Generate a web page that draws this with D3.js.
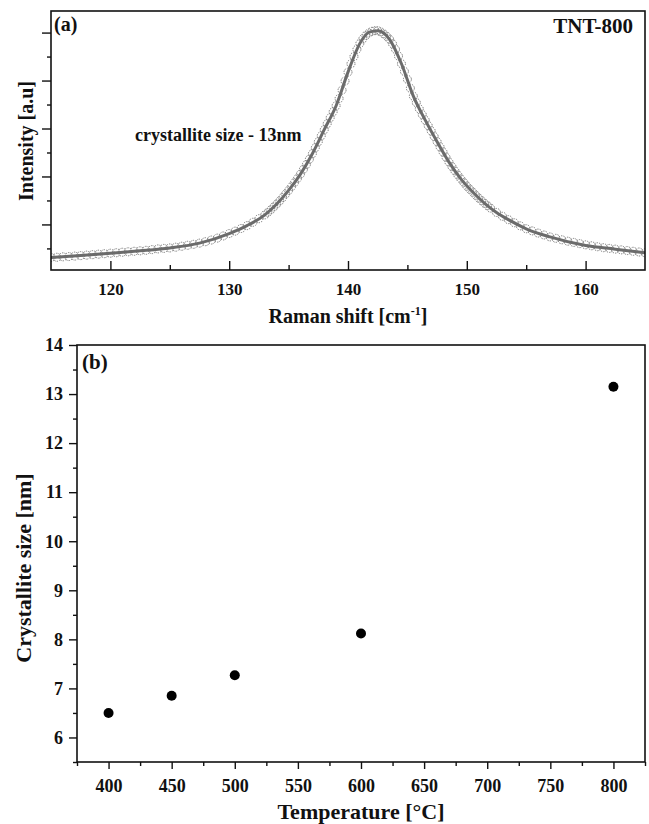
<!DOCTYPE html>
<html>
<head>
<meta charset="utf-8">
<script src="https://cdn.jsdelivr.net/npm/d3@7"></script>
<style>
  body { margin: 0; background: #fff; }
  svg text { font-family: "Liberation Serif", "Times New Roman", serif; font-weight: bold; fill: #111; }
</style>
</head>
<body>
<div id="chart-area"></div>
<script>
// panel (a): Raman spectrum of TNT-800 (measured points + fit)
let ramanShift = [
  115, 115.5, 116, 116.5, 117, 117.5, 118, 118.5, 119, 119.5, 120, 120.5, 121, 121.5, 122, 122.5,
  123, 123.5, 124, 124.5, 125, 125.5, 126, 126.5, 127, 127.5, 128, 128.5, 129, 129.5, 130, 130.5,
  131, 131.5, 132, 132.5,
  133, 133.25, 133.5, 133.75, 134, 134.25, 134.5, 134.75, 135, 135.25, 135.5, 135.75,
  136, 136.25, 136.5, 136.75, 137, 137.25, 137.5, 137.75, 138, 138.25, 138.5, 138.75,
  139, 139.25, 139.5, 139.75, 140, 140.25, 140.5, 140.75, 141, 141.25, 141.5, 141.75,
  142, 142.25, 142.5, 142.75, 143, 143.25, 143.5, 143.75, 144, 144.25, 144.5, 144.75,
  145, 145.25, 145.5, 145.75, 146, 146.25, 146.5, 146.75, 147, 147.25, 147.5, 147.75,
  148, 148.25, 148.5, 148.75, 149, 149.25, 149.5, 149.75, 150, 150.25, 150.5, 150.75,
  151, 151.25, 151.5, 151.75,
  152, 152.5, 153, 153.5, 154, 154.5, 155, 155.5, 156, 156.5, 157, 157.5, 158, 158.5,
  159, 159.5, 160, 160.5, 161, 161.5, 162, 162.5, 163, 163.5, 164, 164.5, 165
];
let ramanIntensity = [
  -0.38, -0.37, -0.35, -0.34, -0.32, -0.30, -0.28, -0.26, -0.24, -0.22, -0.20, -0.18, -0.16, -0.14, -0.12, -0.10,
  -0.08, -0.05, -0.02, 0.00, 0.02, 0.05, 0.09, 0.13, 0.17, 0.22, 0.28, 0.35, 0.43, 0.52, 0.62, 0.72,
  0.83, 0.95, 1.09, 1.24,
  1.40, 1.50, 1.61, 1.73, 1.85, 1.98, 2.12, 2.27, 2.42, 2.58, 2.75, 2.92,
  3.10, 3.30, 3.50, 3.72, 3.95, 4.20, 4.45, 4.70, 4.95, 5.20, 5.45, 5.70,
  5.95, 6.25, 6.60, 6.98, 7.35, 7.70, 8.00, 8.30, 8.55, 8.74, 8.88, 8.98,
  9.05, 9.08, 9.08, 9.03, 8.95, 8.85, 8.72, 8.53, 8.30, 8.02, 7.70, 7.38,
  7.05, 6.68, 6.35, 6.08, 5.82, 5.58, 5.35, 5.12, 4.90, 4.67, 4.45, 4.23,
  4.02, 3.80, 3.60, 3.41, 3.23, 3.06, 2.90, 2.75, 2.60, 2.47, 2.35, 2.22,
  2.10, 1.99, 1.88, 1.78,
  1.68, 1.50, 1.34, 1.20, 1.07, 0.94, 0.82, 0.73, 0.64, 0.56, 0.48, 0.42, 0.36, 0.30,
  0.25, 0.20, 0.15, 0.11, 0.07, 0.03, 0.00, -0.03, -0.06, -0.09, -0.12, -0.15, -0.18
];
let fitShift = [115, 117.5, 120, 122.5, 125, 127.5, 130, 131.5, 133, 134, 135, 136, 137, 138, 139, 140, 141, 141.8,
  142.5, 143.5, 144.5, 145.5, 146.5, 147.5, 148.5, 149.5, 150.5, 151.5, 152.5, 153.5, 155, 157, 160, 162.5, 165];
let fitIntensity = [-0.38, -0.30, -0.20, -0.10, 0.02, 0.22, 0.62, 0.95, 1.40, 1.85, 2.42, 3.10, 3.95, 4.95, 5.95, 7.35, 8.55, 9.02,
  9.08, 8.72, 7.70, 6.35, 5.35, 4.45, 3.60, 2.90, 2.35, 1.88, 1.50, 1.20, 0.82, 0.48, 0.12, -0.03, -0.18];
let ramanMajorTicks = [120, 130, 140, 150, 160];
let ramanMinorTicks = [125, 135, 145, 155];
let intensityTicks = [0, 1, 2, 3, 4, 5, 6, 7, 8, 9];

// panel (b): crystallite size vs temperature
let temperature = [400, 450, 500, 600, 800];
let crystalliteSize = [6.50, 6.85, 7.27, 8.12, 13.15];
let tempMajorTicks = [400, 450, 500, 550, 600, 650, 700, 750, 800];
let tempMinorTicks = [375, 425, 475, 525, 575, 625, 675, 725, 775, 825];
let sizeMajorTicks = [6, 7, 8, 9, 10, 11, 12, 13, 14];
let sizeMinorTicks = [5.5, 6.5, 7.5, 8.5, 9.5, 10.5, 11.5, 12.5, 13.5];

let svg = d3.select('#chart-area').append('svg')
  .attr('width', 649)
  .attr('height', 824);

// ---------- panel (a) ----------
let a = { left: 51, right: 645, top: 11, bottom: 270 };

let xA = d3.scaleLinear().domain([115, 165]).range([a.left, a.right]);
let yA = d3.scaleLinear().domain([-0.9, 9.9]).range([a.bottom, a.top]);

let gA = svg.append('g');

svg.append('clipPath').attr('id', 'clip-a')
  .append('rect')
  .attr('x', a.left).attr('y', a.top)
  .attr('width', a.right - a.left).attr('height', a.bottom - a.top);

let measured = ramanShift.map((d, i) => ({ x: d, y: ramanIntensity[i] }));
let fit = fitShift.map((d, i) => ({ x: d, y: fitIntensity[i] }));

gA.append('g')
  .attr('clip-path', 'url(#clip-a)')
  .selectAll('circle')
  .data(measured)
  .enter()
  .append('circle')
  .attr('cx', d => xA(d.x))
  .attr('cy', d => yA(d.y))
  .attr('r', 4)
  .attr('fill', 'none')
  .attr('stroke', '#777')
  .attr('stroke-width', 1)
  .attr('stroke-dasharray', '1.4,1.1');

let line = d3.line()
  .x(d => xA(d.x))
  .y(d => yA(d.y))
  .curve(d3.curveMonotoneX);

gA.append('path')
  .datum(fit)
  .attr('clip-path', 'url(#clip-a)')
  .attr('d', line)
  .attr('fill', 'none')
  .attr('stroke', '#6b6b6b')
  .attr('stroke-width', 3);

// bottom ticks, pointing inward
gA.append('g')
  .attr('transform', `translate(0, ${a.bottom})`)
  .call(d3.axisBottom(xA).tickValues(ramanMajorTicks).tickSize(-9).tickPadding(13).tickFormat(d3.format('d')))
  .call(g => g.select('.domain').remove())
  .selectAll('text')
  .style('font-size', '17px');
gA.append('g')
  .attr('transform', `translate(0, ${a.bottom})`)
  .call(d3.axisBottom(xA).tickValues(ramanMinorTicks).tickSize(-5).tickFormat(''))
  .call(g => g.select('.domain').remove());

// left ticks, outward, no labels
gA.append('g')
  .attr('transform', `translate(${a.left}, 0)`)
  .call(d3.axisLeft(yA).tickValues(intensityTicks).tickFormat('').tickSize(0))
  .call(g => g.select('.domain').remove())
  .selectAll('.tick line')
  .attr('x2', d => d % 2 === 1 ? -9 : -4);

gA.selectAll('.tick line').attr('stroke', '#111').attr('stroke-width', 1.4);

gA.append('rect')
  .attr('x', a.left).attr('y', a.top)
  .attr('width', a.right - a.left).attr('height', a.bottom - a.top)
  .attr('fill', 'none')
  .attr('stroke', '#111')
  .attr('stroke-width', 1.6);

gA.append('text')
  .attr('x', 54).attr('y', 31)
  .style('font-size', '20px')
  .text('(a)');

gA.append('text')
  .attr('x', 633).attr('y', 33)
  .attr('text-anchor', 'end')
  .style('font-size', '21px')
  .text('TNT-800');

gA.append('text')
  .attr('x', 135).attr('y', 141)
  .style('font-size', '18px')
  .text('crystallite size - 13nm');

let xTitleA = gA.append('text')
  .attr('x', (a.left + a.right) / 2).attr('y', 323)
  .attr('text-anchor', 'middle')
  .style('font-size', '20px');
xTitleA.append('tspan').text('Raman shift [cm');
xTitleA.append('tspan').attr('dy', -8).style('font-size', '12px').text('-1');
xTitleA.append('tspan').attr('dy', 8).text(']');

gA.append('text')
  .attr('transform', 'translate(33, 141) rotate(-90)')
  .attr('text-anchor', 'middle')
  .style('font-size', '20px')
  .text('Intensity [a.u]');

// ---------- panel (b) ----------
let b = { left: 77, right: 645, top: 345, bottom: 762 };

let xB = d3.scaleLinear().domain([375, 825]).range([b.left, b.right]);
let yB = d3.scaleLinear().domain([5.5, 14]).range([b.bottom, b.top]);

let gB = svg.append('g');

gB.append('g')
  .attr('transform', `translate(0, ${b.bottom})`)
  .call(d3.axisBottom(xB).tickValues(tempMajorTicks).tickSize(7).tickPadding(10).tickFormat(d3.format('d')))
  .call(g => g.select('.domain').remove())
  .selectAll('text')
  .style('font-size', '18px');
gB.append('g')
  .attr('transform', `translate(0, ${b.bottom})`)
  .call(d3.axisBottom(xB).tickValues(tempMinorTicks).tickSize(4).tickFormat(''))
  .call(g => g.select('.domain').remove());

gB.append('g')
  .attr('transform', `translate(${b.left}, 0)`)
  .call(d3.axisLeft(yB).tickValues(sizeMajorTicks).tickSize(8).tickPadding(6).tickFormat(d3.format('d')))
  .call(g => g.select('.domain').remove())
  .selectAll('text')
  .style('font-size', '18px');
gB.append('g')
  .attr('transform', `translate(${b.left}, 0)`)
  .call(d3.axisLeft(yB).tickValues(sizeMinorTicks).tickSize(4).tickFormat(''))
  .call(g => g.select('.domain').remove());

gB.selectAll('.tick line').attr('stroke', '#111').attr('stroke-width', 1.4);

gB.append('rect')
  .attr('x', b.left).attr('y', b.top)
  .attr('width', b.right - b.left).attr('height', b.bottom - b.top)
  .attr('fill', 'none')
  .attr('stroke', '#111')
  .attr('stroke-width', 1.6);

gB.selectAll('circle.pt')
  .data(temperature)
  .enter()
  .append('circle')
  .attr('class', 'pt')
  .attr('cx', d => xB(d))
  .attr('cy', (d, i) => yB(crystalliteSize[i]))
  .attr('r', 5)
  .attr('fill', '#000');

gB.append('text')
  .attr('x', 82).attr('y', 369)
  .style('font-size', '21px')
  .text('(b)');

gB.append('text')
  .attr('x', (b.left + b.right) / 2).attr('y', 819)
  .attr('text-anchor', 'middle')
  .style('font-size', '22px')
  .text('Temperature [°C]');

gB.append('text')
  .attr('transform', 'translate(31, 568) rotate(-90)')
  .attr('text-anchor', 'middle')
  .style('font-size', '22px')
  .text('Crystallite size [nm]');
</script>
</body>
</html>
